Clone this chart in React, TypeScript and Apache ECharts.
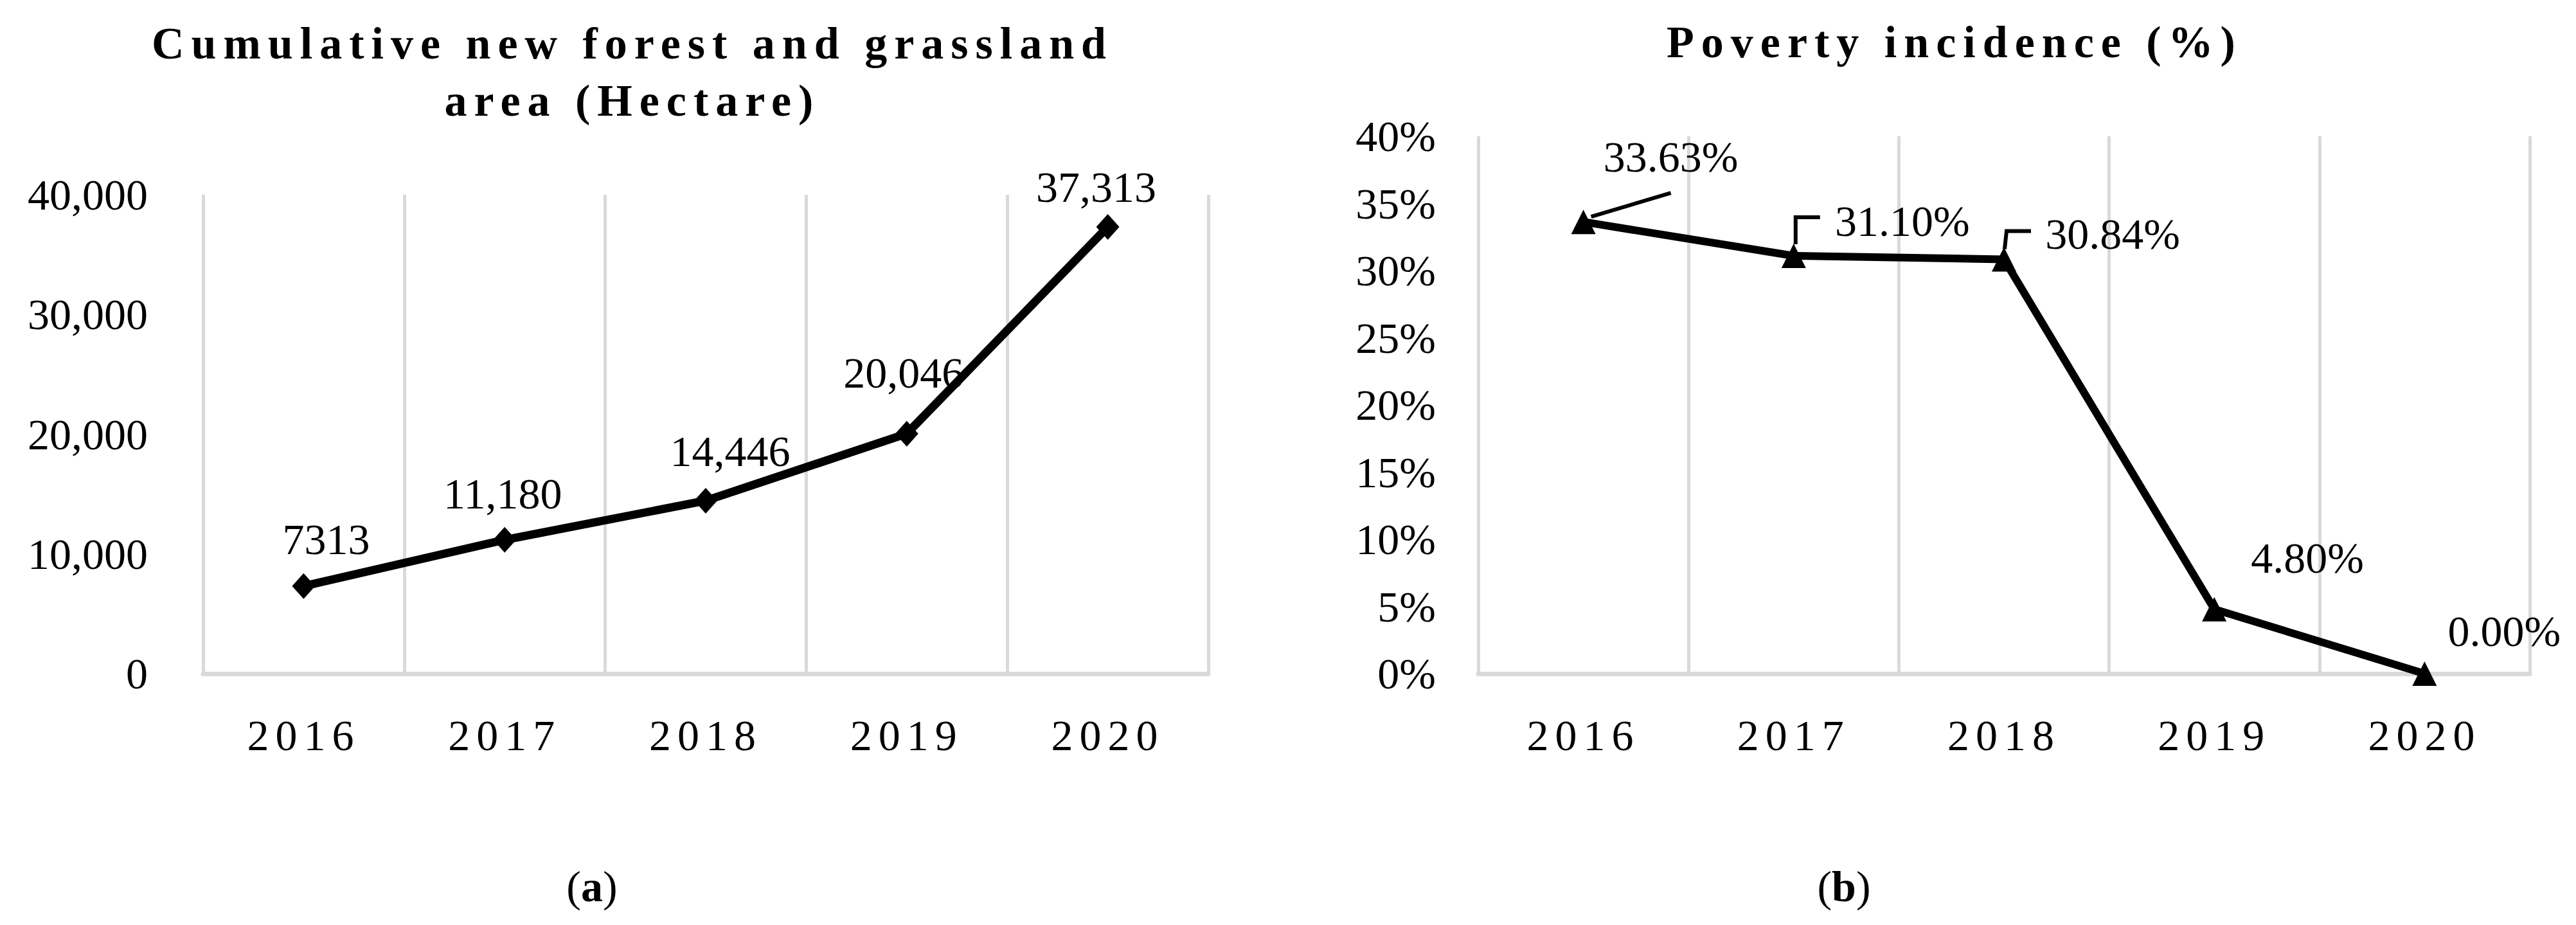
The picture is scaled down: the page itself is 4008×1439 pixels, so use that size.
import React, { useEffect, useRef } from 'react';
import * as echarts from 'echarts';

// ---- data ----
const years = ['2016', '2017', '2018', '2019', '2020'];
const areaValues = [7313, 11180, 14446, 20046, 37313];
const areaLabels = ['7313', '11,180', '14,446', '20,046', '37,313'];
const povertyValues = [33.63, 31.1, 30.84, 4.8, 0.0];
const povertyLabels = ['33.63%', '31.10%', '30.84%', '4.80%', '0.00%'];
const areaAxis = { min: 0, max: 40000, interval: 10000 };
const povertyAxis = { min: 0, max: 40, interval: 5 };
const leftTitle = 'Cumulative new forest and grassland\narea (Hectare)';
const rightTitle = 'Poverty incidence (%)';

// ---- layout (pixel offsets of labels / leader lines relative to the data point) ----
const areaLabelOffsets = [[35, -73], [-3, -72], [38, -77], [-5, -95], [-18, -62]];
const povertyLabelOffsets = [[136, -101], [169, -54], [169, -39], [145, -80], [124, -66]];
const leaderPaths = [
  [[136, -45], [12, -8]],
  [[3, -18], [3, -60], [41, -60]],
  [[1, -16], [4, -44], [42, -44]],
];

const FONT = "'Liberation Serif', 'Times New Roman', serif";
const SPACED_X = "SpacedX, 'Liberation Serif', serif";
const SPACED_T = "SpacedT, 'Liberation Serif', serif";

export default function App() {
  const ref = useRef<HTMLDivElement>(null);

  useEffect(() => {
    document.body.style.margin = '0';
    if (!ref.current) return;
    const chart = echarts.init(ref.current, null, { renderer: 'svg' });

    const axisLabelBase = { color: '#000', fontSize: 68, fontFamily: FONT };
    const xAxisBase = (gi: number) => ({
      type: 'category',
      gridIndex: gi,
      data: years,
      boundaryGap: true,
      axisLine: { show: true, lineStyle: { color: '#d9d9d9', width: 7 } },
      axisTick: { show: false },
      splitLine: { show: true, lineStyle: { color: '#d9d9d9', width: 5 } },
      axisLabel: { margin: 62, color: '#000', fontSize: 68, fontFamily: SPACED_X, interval: 0 },
    });

    const labelBase = {
      show: true,
      position: 'inside',
      color: '#000',
      fontSize: 68,
      fontFamily: FONT,
      textBorderWidth: 0,
      textBorderColor: 'transparent',
    };

    const option: any = {
      animation: false,
      backgroundColor: '#ffffff',
      grid: [
        { left: 316, top: 303, width: 1564, height: 745, containLabel: false, outerBoundsMode: 'none' },
        { left: 2300, top: 212, width: 1636, height: 836, containLabel: false, outerBoundsMode: 'none' },
      ],
      xAxis: [xAxisBase(0), xAxisBase(1)],
      yAxis: [
        {
          type: 'value',
          gridIndex: 0,
          ...areaAxis,
          axisLine: { show: false },
          axisTick: { show: false },
          splitLine: { show: false },
          axisLabel: {
            ...axisLabelBase,
            margin: 86,
            formatter: (v: number) => v.toLocaleString('en-US'),
          },
        },
        {
          type: 'value',
          gridIndex: 1,
          ...povertyAxis,
          axisLine: { show: false },
          axisTick: { show: false },
          splitLine: { show: false },
          axisLabel: {
            ...axisLabelBase,
            margin: 66,
            formatter: (v: number) => v + '%',
          },
        },
      ],
      series: [
        {
          type: 'line',
          xAxisIndex: 0,
          yAxisIndex: 0,
          data: areaValues.map((v, i) => ({ value: v, label: { offset: areaLabelOffsets[i] } })),
          symbol: 'diamond',
          symbolSize: [36, 40],
          lineStyle: { color: '#000', width: 13 },
          itemStyle: { color: '#000' },
          label: { ...labelBase, formatter: (p: any) => areaLabels[p.dataIndex] },
          emphasis: { disabled: true },
          silent: true,
          z: 3,
        },
        {
          type: 'line',
          xAxisIndex: 1,
          yAxisIndex: 1,
          data: povertyValues.map((v, i) => ({ value: v, label: { offset: povertyLabelOffsets[i] } })),
          symbol: 'triangle',
          symbolSize: 38,
          lineStyle: { color: '#000', width: 12 },
          itemStyle: { color: '#000' },
          label: { ...labelBase, formatter: (p: any) => povertyLabels[p.dataIndex] },
          emphasis: { disabled: true },
          silent: true,
          z: 3,
        },
        {
          type: 'custom',
          xAxisIndex: 1,
          yAxisIndex: 1,
          silent: true,
          z: 4,
          data: leaderPaths.map((_, i) => [i, povertyValues[i]]),
          renderItem: (params: any, api: any) => {
            const p = api.coord([api.value(0), api.value(1)]);
            const path = leaderPaths[params.dataIndex];
            return {
              type: 'polyline',
              shape: { points: path.map(([dx, dy]) => [p[0] + dx, p[1] + dy]) },
              style: { stroke: '#000', lineWidth: 6, fill: 'none' },
            };
          },
        },
      ],
      graphic: [
        {
          type: 'text',
          x: 984,
          y: 112,
          style: {
            text: leftTitle,
            fontSize: 70,
            fontWeight: 'bold',
            fontFamily: SPACED_T,
            fill: '#000',
            align: 'center',
            verticalAlign: 'middle',
            lineHeight: 89,
          },
        },
        {
          type: 'text',
          x: 3041,
          y: 65,
          style: {
            text: rightTitle,
            fontSize: 70,
            fontWeight: 'bold',
            fontFamily: SPACED_T,
            fill: '#000',
            align: 'center',
            verticalAlign: 'middle',
          },
        },
        {
          type: 'text',
          x: 921,
          y: 1379,
          style: {
            text: '{n|(}{b|a}{n|)}',
            align: 'center',
            verticalAlign: 'middle',
            rich: {
              n: { fontSize: 68, fontFamily: FONT, fill: '#000', color: '#000' },
              b: { fontSize: 68, fontFamily: FONT, fontWeight: 'bold', fill: '#000', color: '#000' },
            },
          },
        },
        {
          type: 'text',
          x: 2869,
          y: 1379,
          style: {
            text: '{n|(}{b|b}{n|)}',
            align: 'center',
            verticalAlign: 'middle',
            rich: {
              n: { fontSize: 68, fontFamily: FONT, fill: '#000', color: '#000' },
              b: { fontSize: 68, fontFamily: FONT, fontWeight: 'bold', fill: '#000', color: '#000' },
            },
          },
        },
      ],
    };

    chart.setOption(option);
    return () => chart.dispose();
  }, []);

  return (
    <>
      <style>{`text[style*="SpacedX"]{letter-spacing:10px}text[style*="SpacedT"]{letter-spacing:11px}`}</style>
      <div ref={ref} style={{ width: 4008, height: 1439 }} />
    </>
  );
}
